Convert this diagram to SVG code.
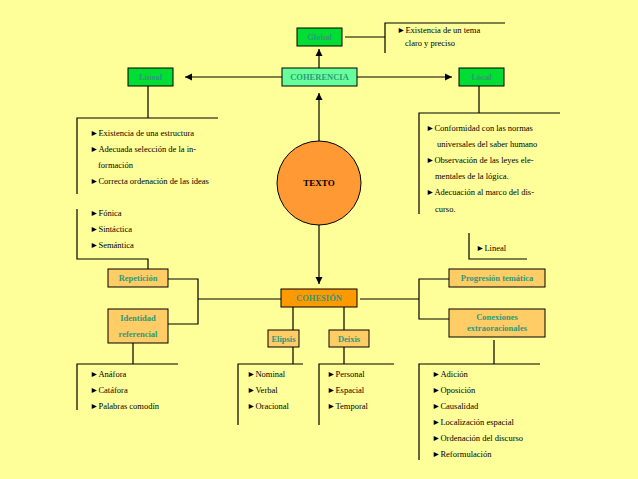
<svg xmlns="http://www.w3.org/2000/svg" width="638" height="479" viewBox="0 0 638 479">
<style>
.l{stroke:#000;stroke-width:1.2;fill:none}
.g{fill:#00dd33;stroke:#000;stroke-width:1}
.o{fill:#ffcc66;stroke:#000;stroke-width:1}
.bl{font-family:"Liberation Serif",serif;font-size:8.5px;font-weight:bold;fill:#2e9a7a;text-anchor:middle}
.t{font-family:"Liberation Serif",serif;font-size:8.5px;fill:#000}
</style>
<defs><marker id="a" viewBox="0 0 10 10" refX="10" refY="5" markerWidth="6" markerHeight="6" orient="auto"><path d="M0,0L10,5L0,10z" fill="#000"/></marker></defs>
<rect width="638" height="479" fill="#ffff99"/>
<g id="connectors">
<path class="l" d="M282,77H185" marker-end="url(#a)"/>
<path class="l" d="M357,77H452" marker-end="url(#a)"/>
<path class="l" d="M319,68V49" marker-end="url(#a)"/>
<path class="l" d="M319,141V93" marker-end="url(#a)"/>
<path class="l" d="M319,225V284" marker-end="url(#a)"/>
<path class="l" d="M345,37H385M505,23H385V53"/>
<path class="l" d="M148,86V118M218,118H77V194M77,209V259H148V269"/>
<path class="l" d="M479,86V113M560,113H419V214"/>
<path class="l" d="M469,233V259H527"/>
<path class="l" d="M281,299H198M168,279H198V324H168"/>
<path class="l" d="M133,343V364M178,364H77V410"/>
<path class="l" d="M360,299H419M449,279H419V319H449"/>
<path class="l" d="M494,340V364M540,364H419V460"/>
<path class="l" d="M293,307V330M293,347V364M303,364H238V425"/>
<path class="l" d="M344,307V330M344,347V364M394,364H319V425"/>
</g>
<g id="texto"><circle cx="319" cy="183" r="42" fill="#ff9933" stroke="#000"/><text x="319" y="186" text-anchor="middle" font-family="Liberation Serif,serif" font-size="9" font-weight="bold">TEXTO</text></g>
<g id="coherencia"><rect x="282" y="68" width="75" height="18" fill="#66ff99" stroke="#000"/><text class="bl" x="319.5" y="80">COHERENCIA</text></g>
<g id="global"><rect class="g" x="297" y="28" width="45" height="18"/><text class="bl" x="319.5" y="40">Global</text></g>
<g id="lineal"><rect class="g" x="128" y="68" width="45" height="18"/><text class="bl" x="150.5" y="80">Lineal</text></g>
<g id="local"><rect class="g" x="459" y="68" width="45" height="18"/><text class="bl" x="481.5" y="80">Local</text></g>
<g id="cohesion"><rect x="281" y="289" width="76" height="18" fill="#ff9900" stroke="#000"/><text class="bl" x="319" y="301">COHESIÓN</text></g>
<g id="repeticion"><rect class="o" x="108" y="269" width="60" height="18"/><text class="bl" x="138" y="281">Repetición</text></g>
<g id="identidad"><rect class="o" x="108" y="309" width="60" height="34"/><text class="bl" x="138" y="321">Identidad</text><text class="bl" x="138" y="337">referencial</text></g>
<g id="progresion"><rect class="o" x="449" y="269" width="96" height="18"/><text class="bl" x="497" y="281">Progresión temática</text></g>
<g id="conexiones"><rect class="o" x="449" y="309" width="96" height="28"/><text class="bl" x="497" y="320">Conexiones</text><text class="bl" x="497" y="331">extraoracionales</text></g>
<g id="elipsis"><rect class="o" x="268" y="330" width="31" height="17"/><text class="bl" x="283.5" y="342">Elipsis</text></g>
<g id="deixis"><rect class="o" x="329" y="330" width="40" height="17"/><text class="bl" x="349" y="342">Deixis</text></g>
<g id="texts">
<text class="t" x="397" y="33">►Existencia de un tema</text>
<text class="t" x="405" y="46">claro y preciso</text>
<text class="t" x="90" y="136">►Existencia de una estructura</text>
<text class="t" x="90" y="152">►Adecuada selección de la  in-</text>
<text class="t" x="98" y="168">formación</text>
<text class="t" x="90" y="184">►Correcta ordenación de las ideas</text>
<text class="t" x="90" y="216">►Fónica</text>
<text class="t" x="90" y="232">►Sintáctica</text>
<text class="t" x="90" y="248">►Semántica</text>
<text class="t" x="426" y="131">►Conformidad con las normas</text>
<text class="t" x="437" y="147">universales del saber humano</text>
<text class="t" x="426" y="163">►Observación de las leyes ele-</text>
<text class="t" x="435" y="179">mentales de la lógica.</text>
<text class="t" x="426" y="195">►Adecuación al marco del  dis-</text>
<text class="t" x="435" y="212">curso.</text>
<text class="t" x="476" y="251">►Lineal</text>
<text class="t" x="90" y="377">►Anáfora</text>
<text class="t" x="90" y="393">►Catáfora</text>
<text class="t" x="90" y="409">►Palabras comodín</text>
<text class="t" x="247" y="377">►Nominal</text>
<text class="t" x="247" y="393">►Verbal</text>
<text class="t" x="247" y="409">►Oracional</text>
<text class="t" x="327" y="377">►Personal</text>
<text class="t" x="327" y="393">►Espacial</text>
<text class="t" x="327" y="409">►Temporal</text>
<text class="t" x="432" y="377">►Adición</text>
<text class="t" x="432" y="393">►Oposición</text>
<text class="t" x="432" y="409">►Causalidad</text>
<text class="t" x="432" y="425">►Localización espacial</text>
<text class="t" x="432" y="441">►Ordenación del discurso</text>
<text class="t" x="432" y="457">►Reformulación</text>
</g>
</svg>
